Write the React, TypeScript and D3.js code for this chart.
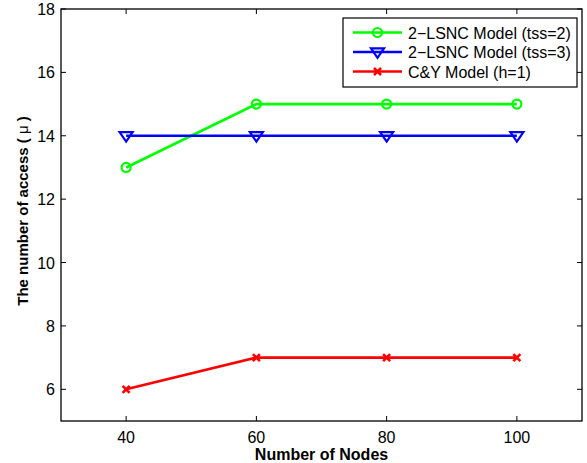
import React from "react";
import * as d3 from "d3";

const nodes = [40, 60, 80, 100];
const lsncTss2 = [13, 15, 15, 15];
const lsncTss3 = [14, 14, 14, 14];
const cyModel = [6, 7, 7, 7];
const xTicks = [40, 60, 80, 100];
const yTicks = [6, 8, 10, 12, 14, 16, 18];
const seriesNames = ["2\u2212LSNC Model (tss=2)", "2\u2212LSNC Model (tss=3)", "C&Y Model (h=1)"];
const seriesColors = ["#00ff00", "#0000ff", "#ff0000"];

const W = 587, H = 463;
const M = { left: 61, right: 582, top: 9, bottom: 421 };
const FONT = "'Liberation Sans', Arial, Helvetica, sans-serif";

function Marker({ kind, x, y, color }: { kind: number; x: number; y: number; color: string }) {
  if (kind === 0) return <circle cx={x} cy={y} r={4.5} fill="none" stroke={color} strokeWidth={2.2} />;
  if (kind === 1) {
    const s = 6.5;
    return <path d={`M${x - s},${y - s * 0.55}L${x + s},${y - s * 0.55}L${x},${y + s * 0.9}Z`} fill="none" stroke={color} strokeWidth={2.2} />;
  }
  const s = 3.5;
  return <path d={`M${x - s},${y - s}L${x + s},${y + s}M${x - s},${y + s}L${x + s},${y - s}`} stroke={color} strokeWidth={2.6} />;
}

export default function App() {
  const x = d3.scaleLinear().domain([30, 110]).range([M.left, M.right]);
  const y = d3.scaleLinear().domain([5, 18]).range([M.bottom, M.top]);
  const series = [lsncTss2, lsncTss3, cyModel];
  const line = d3.line<number>().x((_, i) => x(nodes[i])).y((d) => y(d));
  const tl = 5;
  const legX = 343, legY = 18, legW = 234, legH = 69;
  return (
    <svg width={W} height={H} style={{ position: "absolute", left: 0, top: 0, background: "#fff" }} fontFamily={FONT}>
      <rect x={0} y={0} width={W} height={H} fill="#fff" />
      {series.map((s, k) => (
        <g key={k}>
          <path d={line(s) || ""} fill="none" stroke={seriesColors[k]} strokeWidth={2.6} />
          {s.map((v, i) => (
            <Marker key={i} kind={k} x={x(nodes[i])} y={y(v)} color={seriesColors[k]} />
          ))}
        </g>
      ))}
      <rect x={M.left} y={M.top} width={M.right - M.left} height={M.bottom - M.top} fill="none" stroke="#000" strokeWidth={1.3} />
      {xTicks.map((t) => (
        <g key={t}>
          <line x1={x(t)} x2={x(t)} y1={M.bottom} y2={M.bottom - tl} stroke="#000" />
          <line x1={x(t)} x2={x(t)} y1={M.top} y2={M.top + tl} stroke="#000" />
          <text x={x(t)} y={443} textAnchor="middle" fontSize={16}>{t}</text>
        </g>
      ))}
      {yTicks.map((t) => (
        <g key={t}>
          <line x1={M.left} x2={M.left + tl} y1={y(t)} y2={y(t)} stroke="#000" />
          <line x1={M.right} x2={M.right - tl} y1={y(t)} y2={y(t)} stroke="#000" />
          <text x={55} y={y(t) + 6} textAnchor="end" fontSize={16}>{t}</text>
        </g>
      ))}
      <text x={(M.left + M.right) / 2} y={460} textAnchor="middle" fontSize={16} fontWeight="bold">Number of Nodes</text>
      <text transform={`translate(28,211) rotate(-90)`} textAnchor="middle" fontSize={15} fontWeight="bold">
        The number of access ( <tspan fontWeight="normal">μ</tspan> )
      </text>
      <rect x={legX} y={legY} width={legW} height={legH} fill="#fff" stroke="#000" strokeWidth={1.2} />
      {seriesNames.map((n, k) => {
        const ry = legY + 14.5 + k * 19.5;
        return (
          <g key={k}>
            <line x1={353} x2={402} y1={ry} y2={ry} stroke={seriesColors[k]} strokeWidth={2.6} />
            <Marker kind={k} x={377.5} y={ry} color={seriesColors[k]} />
            <text x={408} y={ry + 6} fontSize={16}>{n}</text>
          </g>
        );
      })}
    </svg>
  );
}
